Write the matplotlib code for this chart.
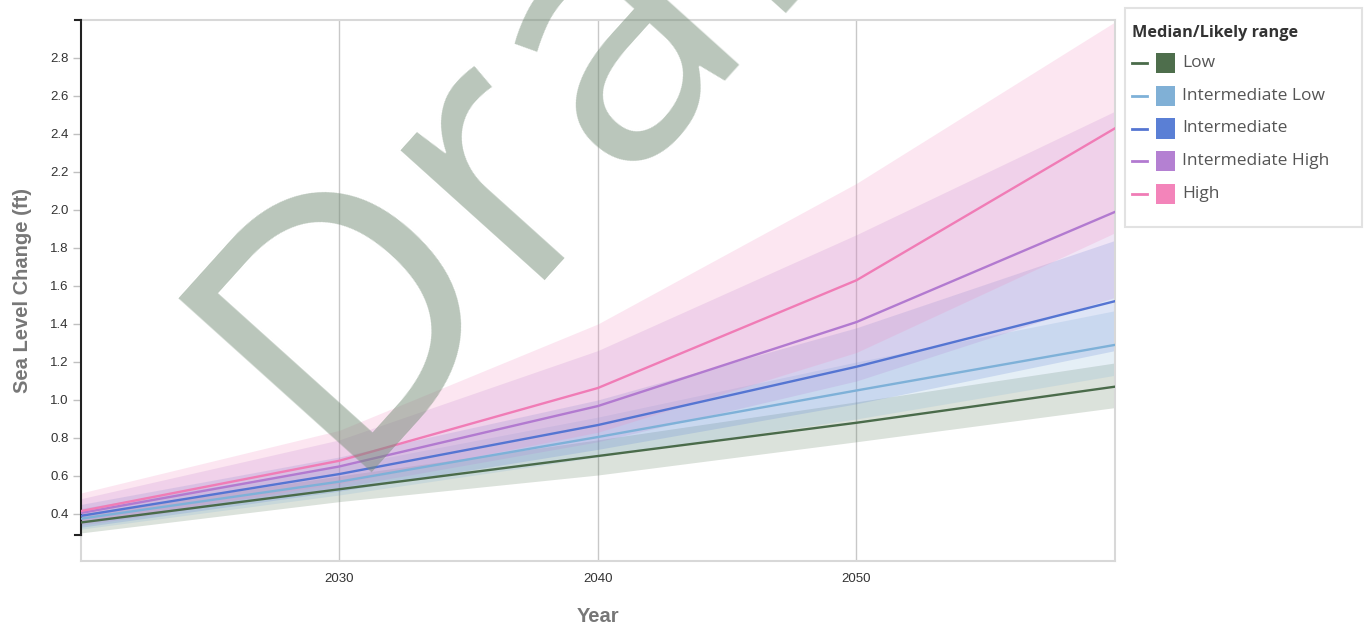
import matplotlib
matplotlib.use("Agg")
import matplotlib.pyplot as plt
from matplotlib.patches import Rectangle
from matplotlib.lines import Line2D

# ---- data -------------------------------------------------------------
years = [2020, 2030, 2040, 2050, 2060]
scenarios = ["Low", "Intermediate Low", "Intermediate", "Intermediate High", "High"]

low_median = [0.355, 0.53, 0.705, 0.88, 1.07]
low_lower = [0.30, 0.465, 0.605, 0.78, 0.96]
low_upper = [0.40, 0.60, 0.79, 0.99, 1.195]

intlow_median = [0.375, 0.57, 0.805, 1.05, 1.29]
intlow_lower = [0.32, 0.50, 0.70, 0.90, 1.13]
intlow_upper = [0.43, 0.65, 0.91, 1.20, 1.47]

int_median = [0.39, 0.61, 0.868, 1.175, 1.52]
int_lower = [0.33, 0.52, 0.74, 0.98, 1.26]
int_upper = [0.45, 0.70, 1.00, 1.38, 1.84]

inthigh_median = [0.405, 0.65, 0.968, 1.41, 1.99]
inthigh_lower = [0.34, 0.54, 0.78, 1.10, 1.54]
inthigh_upper = [0.48, 0.79, 1.26, 1.87, 2.52]

high_median = [0.415, 0.68, 1.063, 1.63, 2.43]
high_lower = [0.35, 0.56, 0.83, 1.25, 1.88]
high_upper = [0.51, 0.84, 1.40, 2.14, 2.99]

medians = [low_median, intlow_median, int_median, inthigh_median, high_median]
lowers = [low_lower, intlow_lower, int_lower, inthigh_lower, high_lower]
uppers = [low_upper, intlow_upper, int_upper, inthigh_upper, high_upper]

line_colors = ["#4a6b4a", "#7eb1d8", "#5575d2", "#b27ad0", "#f07cb6"]
patch_colors = ["#4e6e4c", "#80b0d6", "#5a7fd5", "#b480d2", "#f384ba"]

x_ticks = [2030, 2040, 2050]
y_ticks = [0.4, 0.6, 0.8, 1.0, 1.2, 1.4, 1.6, 1.8, 2.0, 2.2, 2.4, 2.6, 2.8]

# ---- figure -----------------------------------------------------------
W, H = 1367, 625
fig = plt.figure(figsize=(W / 100, H / 100), dpi=100)
ax = fig.add_axes([80.7 / W, 1 - 560.7 / H, (1115 - 80.7) / W, (560.7 - 20) / H])

for lo, hi, c in zip(lowers, uppers, patch_colors):
    ax.fill_between(years, lo, hi, color=c, alpha=0.2, lw=0, zorder=2)
for med, c in zip(medians, line_colors):
    ax.plot(years, med, color=c, lw=1.7, zorder=3)

ax.set_xlim(2020, 2060)
ax.set_ylim(0.154, 3.0)

ax.set_xticks(x_ticks)
ax.set_xticklabels([str(t) for t in x_ticks])
ax.set_yticks(y_ticks)
ax.set_yticklabels([f"{t:.1f}" for t in y_ticks])
ax.tick_params(axis="x", length=0, pad=9, labelsize=9.5, labelcolor="#333333")
ax.tick_params(axis="y", length=5.5, width=1, color="#c0c0c0", pad=3,
               labelsize=9.5, labelcolor="#333333")
for lab in ax.get_xticklabels() + ax.get_yticklabels():
    lab.set_family("Liberation Sans")

ax.grid(axis="x", color="#c8c8c8", lw=1)
ax.set_axisbelow(True)

for side in ["top", "right", "bottom"]:
    ax.spines[side].set_color("#d8d8d8")
    ax.spines[side].set_linewidth(1.5)
ax.spines["left"].set_color("#222222")
ax.spines["left"].set_linewidth(1.5)
ax.spines["left"].set_bounds(0.29, 3.0)
# grey continuation of the frame below the y domain
ax.plot([0, 0], [0, (0.29 - 0.154) / (3.0 - 0.154)], transform=ax.transAxes,
        color="#d8d8d8", lw=1.5, clip_on=False, zorder=1)
# outer ticks at both ends of the y domain
for yv in (0.29, 3.0):
    ax.plot([-0.0058, 0], [yv, yv], transform=ax.get_yaxis_transform(),
            color="#222222", lw=1.5, clip_on=False, zorder=5)

ax.set_xlabel("Year", fontsize=14.5, fontweight="bold", color="#777777",
              family="Liberation Sans", labelpad=16)
ax.set_ylabel("Sea Level Change (ft)", fontsize=14.5, fontweight="bold",
              color="#777777", family="Liberation Sans", labelpad=13)

# ---- legend -----------------------------------------------------------
def fx(x):
    return x / W


def fy(y):
    return 1 - y / H


fig.patches.append(Rectangle((fx(1125), fy(227)), fx(1362) - fx(1125), fy(8) - fy(227),
                             transform=fig.transFigure, facecolor="white",
                             edgecolor="#e2e2e2", lw=1.5, zorder=1))
fig.text(fx(1132), fy(33), "Median/Likely range", family="Open Sans",
         fontweight="bold", fontsize=11.7, color="#333333", va="center", ha="left")
row_y = [63, 96, 128.5, 161, 194]
for name, lc, pc, ry in zip(scenarios, line_colors, patch_colors, row_y):
    fig.lines.append(Line2D([fx(1132), fx(1147)], [fy(ry), fy(ry)],
                            transform=fig.transFigure, color=lc, lw=2))
    fig.patches.append(Rectangle((fx(1156), fy(ry + 10)), fx(1175) - fx(1156),
                                 fy(ry - 10) - fy(ry + 10), transform=fig.transFigure,
                                 facecolor=pc, edgecolor="none", zorder=2))
    fig.text(fx(1182), fy(ry), name, family="Open Sans", fontsize=12.5,
             color="#555555", va="center", ha="left")

# ---- watermark --------------------------------------------------------
fig.text(fx(337), fy(472), "Draft", family="Open Sans", fontsize=262,
         color="#758d77", alpha=0.5, rotation=48, rotation_mode="anchor",
         ha="left", va="baseline", zorder=10)

fig.savefig("out.png", dpi=100)
